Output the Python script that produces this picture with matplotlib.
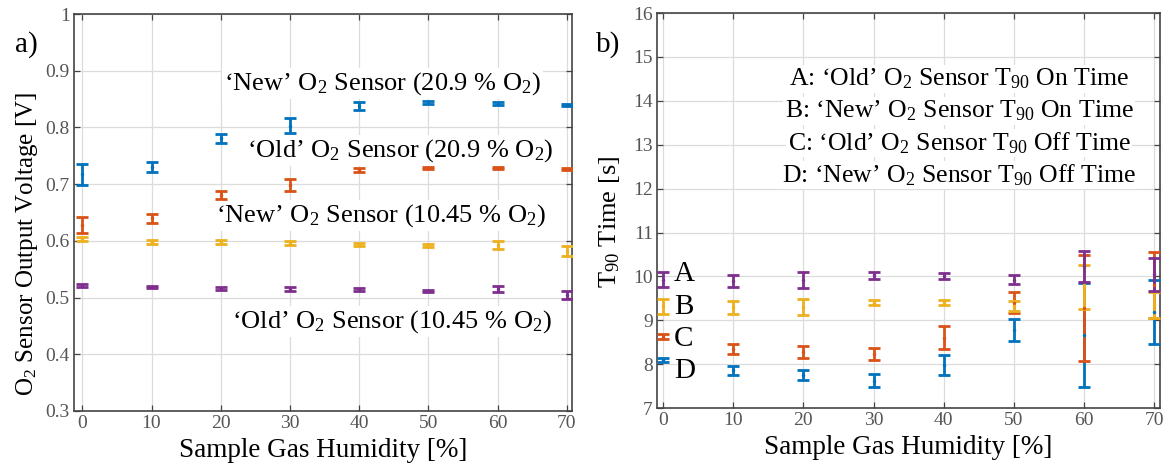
import matplotlib
matplotlib.use("Agg")
import matplotlib.pyplot as plt
import numpy as np

plt.rcParams['font.family'] = ['Liberation Serif', 'DejaVu Serif']
plt.rcParams['mathtext.fontset'] = 'custom'
plt.rcParams['mathtext.rm'] = 'Liberation Serif'
plt.rcParams['mathtext.it'] = 'Liberation Serif:italic'

humidity = [0, 10, 20, 30, 40, 50, 60, 70]

# Panel a) sensor output voltage [V]: mean and half error
new_209 = [0.717, 0.730, 0.781, 0.803, 0.838, 0.844, 0.842, 0.840]
new_209_err = [0.019, 0.009, 0.008, 0.013, 0.007, 0.002, 0.002, 0.002]
old_209 = [0.628, 0.640, 0.681, 0.698, 0.725, 0.729, 0.728, 0.727]
old_209_err = [0.014, 0.008, 0.007, 0.011, 0.004, 0.002, 0.002, 0.002]
new_1045 = [0.603, 0.598, 0.598, 0.596, 0.594, 0.592, 0.593, 0.582]
new_1045_err = [0.004, 0.003, 0.003, 0.003, 0.003, 0.003, 0.007, 0.009]
old_1045 = [0.521, 0.518, 0.516, 0.515, 0.514, 0.511, 0.515, 0.504]
old_1045_err = [0.003, 0.002, 0.003, 0.003, 0.002, 0.002, 0.006, 0.007]

# Panel b) T90 times [s]: mean and half error
a_old_on = [9.93, 9.90, 9.92, 10.03, 10.01, 9.93, 10.23, 10.05]
a_old_on_err = [0.17, 0.14, 0.19, 0.08, 0.06, 0.10, 0.36, 0.38]
b_new_on = [9.32, 9.30, 9.30, 9.40, 9.41, 9.33, 9.75, 9.35]
b_new_on_err = [0.17, 0.15, 0.18, 0.06, 0.06, 0.12, 0.50, 0.30]
c_old_off = [8.63, 8.35, 8.28, 8.24, 8.60, 9.40, 9.28, 9.80]
c_old_off_err = [0.05, 0.12, 0.14, 0.14, 0.26, 0.24, 1.20, 0.75]
d_new_off = [8.10, 7.86, 7.75, 7.62, 7.98, 8.78, 8.67, 9.20]
d_new_off_err = [0.05, 0.11, 0.12, 0.15, 0.22, 0.26, 1.19, 0.73]

C_BLUE = '#0072BD'
C_ORANGE = '#D95319'
C_YELLOW = '#EDB120'
C_PURPLE = '#7E2F8E'

fig = plt.figure(figsize=(11.74, 4.68), dpi=100)
ax1 = fig.add_axes([0.063, 0.122, 0.424, 0.848])
ax2 = fig.add_axes([0.5596, 0.128, 0.4284, 0.844])

tick_color = '#555555'


def style_axes(ax):
    ax.grid(True, color='#dcdcdc', linewidth=0.9)
    ax.set_axisbelow(True)
    for s in ax.spines.values():
        s.set_color('#444444')
        s.set_linewidth(1.2)
    ax.tick_params(direction='in', length=4, width=0.9, colors='#444444',
                   labelcolor=tick_color, labelsize=14, top=True, right=True,
                   pad=3)
    ax.set_xticks(humidity)
    ax.set_xticklabels([str(h) for h in humidity])


def draw(ax, y, err, color, z=3):
    ax.errorbar(humidity, y, yerr=err, fmt='.', color=color, ecolor=color,
                markersize=3, elinewidth=2.0, capsize=4, capthick=2.0, zorder=z)


# ---- panel a)
style_axes(ax1)
draw(ax1, new_209, new_209_err, C_BLUE)
draw(ax1, old_209, old_209_err, C_ORANGE)
draw(ax1, new_1045, new_1045_err, C_YELLOW)
draw(ax1, old_1045, old_1045_err, C_PURPLE)
ax1.set_xlim(-1.2, 70.7)
ax1.set_ylim(0.3, 1.0)
yt1 = [0.3, 0.4, 0.5, 0.6, 0.7, 0.8, 0.9, 1.0]
ax1.set_yticks(yt1)
ax1.set_yticklabels(['0.3', '0.4', '0.5', '0.6', '0.7', '0.8', '0.9', '1'])
ax1.set_xlabel('Sample Gas Humidity [%]', fontsize=19.5, labelpad=4)
ax1.set_ylabel(r'O$_2$ Sensor Output Voltage [V]', fontsize=18)
ax1.yaxis.set_label_coords(-0.068, 0.42)

box = dict(facecolor='white', edgecolor='none', pad=1.5)
ax1.text(43.3, 0.877, r'‘New’ O$_2$ Sensor (20.9 % O$_2$)', fontsize=19,
         ha='center', va='center', bbox=box, zorder=2)
ax1.text(45.9, 0.760, r'‘Old’ O$_2$ Sensor (20.9 % O$_2$)', fontsize=19,
         ha='center', va='center', bbox=box, zorder=2)
ax1.text(43.2, 0.644, r'‘New’ O$_2$ Sensor (10.45 % O$_2$)', fontsize=19,
         ha='center', va='center', bbox=box, zorder=2)
ax1.text(44.7, 0.458, r'‘Old’ O$_2$ Sensor (10.45 % O$_2$)', fontsize=19,
         ha='center', va='center', bbox=box, zorder=2)

fig.text(0.013, 0.905, 'a)', fontsize=21, ha='left', va='center')

# ---- panel b)
style_axes(ax2)
draw(ax2, d_new_off, d_new_off_err, C_BLUE)
draw(ax2, c_old_off, c_old_off_err, C_ORANGE)
draw(ax2, b_new_on, b_new_on_err, C_YELLOW)
draw(ax2, a_old_on, a_old_on_err, C_PURPLE)
ax2.set_xlim(-0.85, 70.8)
ax2.set_ylim(7, 16)
ax2.set_yticks(range(7, 17))
ax2.set_xlabel('Sample Gas Humidity [%]', fontsize=19.5, labelpad=4)
ax2.set_ylabel(r'T$_{90}$ Time [s]', fontsize=19)
ax2.yaxis.set_label_coords(-0.07, 0.47)

legend_lines = [
    r'A: ‘Old’ O$_2$ Sensor T$_{90}$ On Time',
    r'B: ‘New’ O$_2$ Sensor T$_{90}$ On Time',
    r'C: ‘Old’ O$_2$ Sensor T$_{90}$ Off Time',
    r'D: ‘New’ O$_2$ Sensor T$_{90}$ Off Time',
]
for i, line in enumerate(legend_lines):
    ax2.text(42.2, 14.5 - i * 0.73, line, fontsize=18.5, ha='center',
             va='center', bbox=dict(facecolor='white', edgecolor='none', pad=1.0),
             zorder=2)

letters = ['A', 'B', 'C', 'D']
letter_y = [10.05, 9.30, 8.57, 7.85]
for lt, yy in zip(letters, letter_y):
    ax2.text(1.6, yy, lt, fontsize=21, ha='left', va='center', zorder=4)

fig.text(0.508, 0.905, 'b)', fontsize=21, ha='left', va='center')

fig.savefig('out.png', dpi=100)
